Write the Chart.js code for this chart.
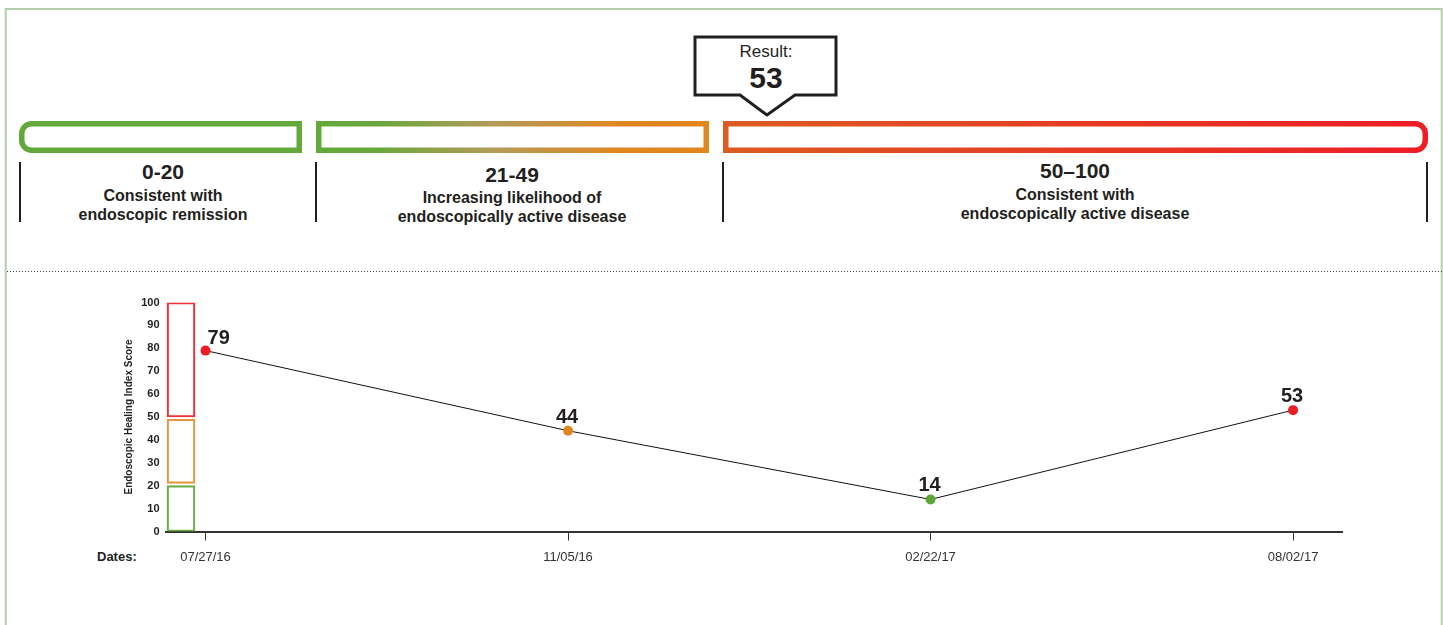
<!DOCTYPE html>
<html>
<head>
<meta charset="utf-8">
<title>Endoscopic Healing Index</title>
<script src="https://cdn.jsdelivr.net/npm/chart.js@4/dist/chart.umd.min.js"></script>
<style>
  html, body { margin: 0; padding: 0; background: #fff; }
  #page { position: relative; width: 1443px; height: 625px; overflow: hidden; font-family: "Liberation Sans", Arial, Helvetica, sans-serif; }
  #page svg, #page canvas { position: absolute; left: 0; top: 0; }
  svg text { font-family: "Liberation Sans", Arial, Helvetica, sans-serif; fill: #231f20; }
</style>
</head>
<body>
<div id="page">
  <svg width="1443" height="625" viewBox="0 0 1443 625">
    <defs>
      <linearGradient id="midGrad" gradientUnits="userSpaceOnUse" x1="316" y1="0" x2="709" y2="0">
        <stop offset="0" stop-color="#63a83a"/>
        <stop offset="0.15" stop-color="#67a73b"/>
        <stop offset="0.45" stop-color="#b39b5a"/>
        <stop offset="0.78" stop-color="#e0871f"/>
        <stop offset="1" stop-color="#e2861e"/>
      </linearGradient>
      <linearGradient id="redGrad" gradientUnits="userSpaceOnUse" x1="723" y1="0" x2="1428" y2="0">
        <stop offset="0" stop-color="#dc5b22"/>
        <stop offset="1" stop-color="#ee1c25"/>
      </linearGradient>
    </defs>

    <!-- outer frame and divider -->
    <rect x="5.7" y="9" width="1436" height="700" fill="none" stroke="#b5cda9" stroke-width="2"/>
    <line x1="7" y1="271.5" x2="1443" y2="271.5" stroke="#444" stroke-width="1" stroke-dasharray="1 2"/>

    <!-- range bars -->
    <path d="M299.25,123.75 H31.75 A10,10 0 0 0 21.75,133.75 V140.25 A10,10 0 0 0 31.75,150.25 H299.25 Z"
          fill="none" stroke="#63a83a" stroke-width="5.5"/>
    <rect x="318.75" y="123.75" width="387.5" height="26.5" fill="none" stroke="url(#midGrad)" stroke-width="5.5"/>
    <path d="M725.75,123.75 H1415.25 A10,10 0 0 1 1425.25,133.75 V140.25 A10,10 0 0 1 1415.25,150.25 H725.75 Z"
          fill="none" stroke="url(#redGrad)" stroke-width="5.5"/>

    <!-- separators -->
    <line x1="20" y1="162" x2="20" y2="222" stroke="#231f20" stroke-width="2"/>
    <line x1="316" y1="162" x2="316" y2="222" stroke="#231f20" stroke-width="2"/>
    <line x1="723" y1="162" x2="723" y2="222" stroke="#231f20" stroke-width="2"/>
    <line x1="1427" y1="162" x2="1427" y2="222" stroke="#231f20" stroke-width="2"/>

    <!-- range texts -->
    <g text-anchor="middle" font-weight="bold">
      <text x="163" y="179.3" font-size="21">0-20</text>
      <text x="163" y="201" font-size="16">Consistent with</text>
      <text x="163" y="220" font-size="16">endoscopic remission</text>

      <text x="512" y="181.7" font-size="21">21-49</text>
      <text x="512" y="202.7" font-size="16">Increasing likelihood of</text>
      <text x="512" y="221.7" font-size="16">endoscopically active disease</text>

      <text x="1075" y="178.3" font-size="21">50–100</text>
      <text x="1075" y="200" font-size="16">Consistent with</text>
      <text x="1075" y="218.7" font-size="16">endoscopically active disease</text>
    </g>

    <!-- result callout -->
    <path d="M695,37 H836 V95 H795 L767,115 L740,95 H695 Z" fill="#fff" stroke="#231f20" stroke-width="3" stroke-linejoin="miter"/>
    <text x="766" y="56.7" font-size="17" text-anchor="middle">Result:</text>
    <text x="766" y="88.3" font-size="30" font-weight="bold" text-anchor="middle">53</text>

    <text x="97" y="561" font-size="13" font-weight="bold">Dates:</text>
  </svg>
  <canvas id="myCanvas" width="1443" height="625"></canvas>
</div>

<script>
'use strict';

// test dates and EHI scores
const dates = ['07/27/16', '11/05/16', '02/22/17', '08/02/17'];
const scores = [79, 44, 14, 53];

// score ranges shown as the boxes next to the y axis
const bandLow = [0, 21, 50];
const bandHigh = [20, 49, 100];
const bandColors = ['#6aaa47', '#e3973f', '#ee3338'];
const bandX = -0.0676; // just left of the first date

const yTicks = [0, 10, 20, 30, 40, 50, 60, 70, 80, 90, 100];

function colorFor(v) {
  if (v >= 50) return '#ec1c24';
  if (v >= 21) return '#e0861f';
  return '#5da436';
}

const FONT = '"Liberation Sans", Arial, Helvetica, sans-serif';

// value labels above each point
const valueLabels = {
  id: 'valueLabels',
  afterDatasetsDraw(chart) {
    const ctx = chart.ctx;
    const meta = chart.getDatasetMeta(1);
    ctx.save();
    ctx.font = 'bold 20px ' + FONT;
    ctx.fillStyle = '#231f20';
    ctx.textBaseline = 'alphabetic';
    meta.data.forEach((pt, i) => {
      if (i === 0) {
        ctx.textAlign = 'left';
        ctx.fillText(String(scores[i]), pt.x + 2, pt.y - 7);
      } else {
        ctx.textAlign = 'center';
        ctx.fillText(String(scores[i]), pt.x - 1, pt.y - 8);
      }
    });
    ctx.restore();
  }
};

const canvasEl = document.getElementById('myCanvas');
const ctx = canvasEl.getContext('2d');

new Chart(ctx, {
  type: 'line',
  data: {
    datasets: [{
      type: 'bar',
      data: bandLow.map((lo, i) => ({ x: bandX, y: [lo, bandHigh[i]] })),
      backgroundColor: 'rgba(0,0,0,0)',
      borderColor: bandColors,
      borderWidth: 1.5,
      borderSkipped: false,
      barThickness: 28
    }, {
      type: 'line',
      data: scores.map((v, i) => ({ x: i, y: v })),
      borderColor: '#111',
      borderWidth: 1,
      pointRadius: 5,
      pointBorderWidth: 0,
      pointBackgroundColor: scores.map(colorFor),
      tension: 0
    }]
  },
  options: {
    responsive: false,
    animation: false,
    layout: { padding: { top: 302.5, left: 0, right: 101, bottom: 0 } },
    plugins: { legend: { display: false }, tooltip: { enabled: false } },
    scales: {
      x: {
        type: 'linear',
        min: -0.109,
        max: 3.135,
        offset: false,
        afterBuildTicks: (scale) => { scale.ticks = dates.map((d, i) => ({ value: i })); },
        afterFit: (scale) => { scale.height = 93.5; },
        ticks: {
          callback: (v) => dates[v],
          font: { family: FONT, size: 13 },
          color: '#333',
          padding: 9,
          maxRotation: 0,
          autoSkip: false
        },
        grid: { display: true, offset: false, drawOnChartArea: false, drawTicks: true, tickLength: 9, tickColor: '#333', tickWidth: 1 },
        border: { display: true, color: '#333', width: 2 }
      },
      y: {
        min: 0,
        max: 100,
        afterBuildTicks: (scale) => { scale.ticks = yTicks.map(v => ({ value: v })); },
        afterFit: (scale) => { scale.width = 166; },
        ticks: {
          font: { family: FONT, size: 11, weight: 'bold' },
          color: '#231f20',
          padding: 6.5
        },
        grid: { display: false, drawTicks: false },
        border: { display: false },
        title: {
          display: true,
          text: 'Endoscopic Healing Index Score',
          font: { family: FONT, size: 10, weight: 'bold' },
          color: '#231f20',
          padding: { top: 123, bottom: 0 }
        }
      }
    }
  },
  plugins: [valueLabels]
});
</script>
</body>
</html>
